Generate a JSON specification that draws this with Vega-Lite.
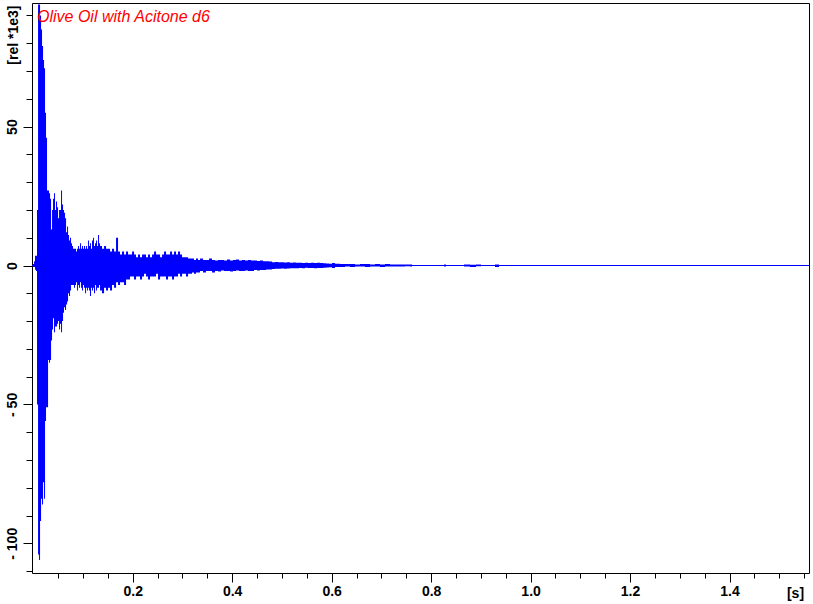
{
  "$schema": "https://vega.github.io/schema/vega-lite/v6.json",
  "width": 777,
  "height": 570,
  "autosize": {"type": "none"},
  "padding": {"left": 32, "top": 3, "right": 4, "bottom": 31},
  "background": "white",
  "config": {
    "view": {"stroke": "black", "strokeWidth": 1},
    "axis": {
      "domain": false,
      "grid": false,
      "labelOverlap": false,
      "tickColor": "black",
      "tickWidth": 1,
      "labelFont": "Liberation Sans",
      "labelFontSize": 14,
      "labelFontWeight": "bold",
      "labelColor": "black",
      "titleFont": "Liberation Sans",
      "titleFontSize": 14,
      "titleFontWeight": "bold",
      "titleColor": "black"
    }
  },
  "title": {
    "text": "Olive Oil with Acitone d6",
    "anchor": "start",
    "frame": "group",
    "offset": -20.5,
    "dx": 5,
    "dy": 14.5,
    "baseline": "alphabetic",
    "font": "Liberation Sans",
    "fontSize": 16,
    "fontStyle": "italic",
    "fontWeight": "normal",
    "color": "red"
  },
  "layer": [
    {
      "data": {"values": [
        {"t": -0.0004, "hi": 0.5, "lo": -0.5},
        {"t": 0.0016, "hi": 1.5, "lo": -0.5},
        {"t": 0.0036, "hi": 3.5, "lo": -1.5},
        {"t": 0.0056, "hi": 3.5, "lo": -2},
        {"t": 0.0076, "hi": 20, "lo": -50},
        {"t": 0.0097, "hi": 94, "lo": -104},
        {"t": 0.0117, "hi": 94, "lo": -106},
        {"t": 0.0137, "hi": 90, "lo": -92},
        {"t": 0.0157, "hi": 85, "lo": -84},
        {"t": 0.0177, "hi": 79, "lo": -86},
        {"t": 0.0197, "hi": 74, "lo": -78},
        {"t": 0.0217, "hi": 71, "lo": -84},
        {"t": 0.0237, "hi": 55, "lo": -56},
        {"t": 0.0257, "hi": 46, "lo": -51},
        {"t": 0.0277, "hi": 27, "lo": -51},
        {"t": 0.0298, "hi": 27, "lo": -34},
        {"t": 0.0318, "hi": 26, "lo": -35},
        {"t": 0.0338, "hi": 24, "lo": -34},
        {"t": 0.0358, "hi": 13, "lo": -27},
        {"t": 0.0378, "hi": 20, "lo": -23},
        {"t": 0.0398, "hi": 24, "lo": -19},
        {"t": 0.0418, "hi": 26, "lo": -24},
        {"t": 0.0438, "hi": 20, "lo": -22},
        {"t": 0.0458, "hi": 23, "lo": -22},
        {"t": 0.0479, "hi": 21, "lo": -21},
        {"t": 0.0499, "hi": 17, "lo": -20},
        {"t": 0.0519, "hi": 20, "lo": -23},
        {"t": 0.0539, "hi": 20, "lo": -21},
        {"t": 0.0559, "hi": 27, "lo": -24},
        {"t": 0.0579, "hi": 22, "lo": -20},
        {"t": 0.0599, "hi": 20, "lo": -17},
        {"t": 0.0619, "hi": 19, "lo": -15},
        {"t": 0.0639, "hi": 17, "lo": -16},
        {"t": 0.0660, "hi": 12, "lo": -14},
        {"t": 0.0680, "hi": 14, "lo": -13},
        {"t": 0.0700, "hi": 11, "lo": -10},
        {"t": 0.0720, "hi": 9, "lo": -11},
        {"t": 0.0740, "hi": 10, "lo": -9},
        {"t": 0.0760, "hi": 8, "lo": -7},
        {"t": 0.0780, "hi": 7, "lo": -7},
        {"t": 0.0800, "hi": 6, "lo": -7},
        {"t": 0.0820, "hi": 6, "lo": -8},
        {"t": 0.0840, "hi": 6, "lo": -7},
        {"t": 0.0861, "hi": 5, "lo": -6},
        {"t": 0.0881, "hi": 6, "lo": -9},
        {"t": 0.0901, "hi": 7, "lo": -7},
        {"t": 0.0921, "hi": 6, "lo": -8},
        {"t": 0.0941, "hi": 8, "lo": -6},
        {"t": 0.0961, "hi": 6, "lo": -8},
        {"t": 0.0981, "hi": 7, "lo": -9},
        {"t": 0.1001, "hi": 6, "lo": -7},
        {"t": 0.1021, "hi": 7, "lo": -8},
        {"t": 0.1042, "hi": 6, "lo": -10},
        {"t": 0.1062, "hi": 7, "lo": -8},
        {"t": 0.1082, "hi": 6, "lo": -9},
        {"t": 0.1102, "hi": 9, "lo": -8},
        {"t": 0.1122, "hi": 7, "lo": -9},
        {"t": 0.1142, "hi": 8, "lo": -11},
        {"t": 0.1162, "hi": 6, "lo": -8},
        {"t": 0.1182, "hi": 9, "lo": -9},
        {"t": 0.1202, "hi": 10, "lo": -8},
        {"t": 0.1222, "hi": 7, "lo": -10},
        {"t": 0.1243, "hi": 8, "lo": -7},
        {"t": 0.1263, "hi": 9, "lo": -9},
        {"t": 0.1283, "hi": 7, "lo": -8},
        {"t": 0.1303, "hi": 11, "lo": -8},
        {"t": 0.1323, "hi": 8, "lo": -7},
        {"t": 0.1343, "hi": 7, "lo": -9},
        {"t": 0.1383, "hi": 6, "lo": -10},
        {"t": 0.1424, "hi": 7, "lo": -8},
        {"t": 0.1464, "hi": 6, "lo": -9},
        {"t": 0.1504, "hi": 6, "lo": -8},
        {"t": 0.1544, "hi": 5, "lo": -9},
        {"t": 0.1584, "hi": 6, "lo": -7},
        {"t": 0.1625, "hi": 5, "lo": -8},
        {"t": 0.1665, "hi": 10, "lo": -6},
        {"t": 0.1705, "hi": 5, "lo": -7},
        {"t": 0.1745, "hi": 4, "lo": -6},
        {"t": 0.1785, "hi": 5, "lo": -6},
        {"t": 0.1826, "hi": 4, "lo": -7},
        {"t": 0.1866, "hi": 5, "lo": -5},
        {"t": 0.1906, "hi": 4, "lo": -5},
        {"t": 0.1946, "hi": 4, "lo": -4},
        {"t": 0.1987, "hi": 5, "lo": -4},
        {"t": 0.2027, "hi": 4, "lo": -5},
        {"t": 0.2067, "hi": 3, "lo": -4},
        {"t": 0.2107, "hi": 4, "lo": -4},
        {"t": 0.2147, "hi": 3, "lo": -5},
        {"t": 0.2188, "hi": 4, "lo": -4},
        {"t": 0.2228, "hi": 4, "lo": -3},
        {"t": 0.2268, "hi": 3, "lo": -4},
        {"t": 0.2308, "hi": 4, "lo": -5},
        {"t": 0.2348, "hi": 3, "lo": -4},
        {"t": 0.2389, "hi": 4, "lo": -4},
        {"t": 0.2429, "hi": 5, "lo": -4},
        {"t": 0.2469, "hi": 4, "lo": -3},
        {"t": 0.2509, "hi": 4, "lo": -5},
        {"t": 0.2550, "hi": 3, "lo": -4},
        {"t": 0.2590, "hi": 4, "lo": -4},
        {"t": 0.2630, "hi": 5, "lo": -4},
        {"t": 0.2670, "hi": 4, "lo": -5},
        {"t": 0.2710, "hi": 4, "lo": -4},
        {"t": 0.2751, "hi": 5, "lo": -4},
        {"t": 0.2791, "hi": 4, "lo": -5},
        {"t": 0.2831, "hi": 5, "lo": -4},
        {"t": 0.2871, "hi": 4, "lo": -4},
        {"t": 0.2911, "hi": 5, "lo": -3},
        {"t": 0.2952, "hi": 4, "lo": -4},
        {"t": 0.2992, "hi": 3, "lo": -3},
        {"t": 0.3032, "hi": 3, "lo": -3},
        {"t": 0.3072, "hi": 3, "lo": -4},
        {"t": 0.3113, "hi": 2.5, "lo": -3},
        {"t": 0.3153, "hi": 2.5, "lo": -3},
        {"t": 0.3193, "hi": 2.5, "lo": -2.5},
        {"t": 0.3233, "hi": 2, "lo": -3},
        {"t": 0.3273, "hi": 2.5, "lo": -2.5},
        {"t": 0.3314, "hi": 2, "lo": -2.5},
        {"t": 0.3354, "hi": 2.5, "lo": -2},
        {"t": 0.3414, "hi": 2, "lo": -2.5},
        {"t": 0.3474, "hi": 2, "lo": -2},
        {"t": 0.3535, "hi": 2.5, "lo": -2},
        {"t": 0.3595, "hi": 2, "lo": -2.5},
        {"t": 0.3655, "hi": 1.8, "lo": -2},
        {"t": 0.3716, "hi": 2, "lo": -2.2},
        {"t": 0.3776, "hi": 2, "lo": -1.8},
        {"t": 0.3836, "hi": 1.8, "lo": -2},
        {"t": 0.3897, "hi": 2.2, "lo": -2},
        {"t": 0.3957, "hi": 1.8, "lo": -2.2},
        {"t": 0.4017, "hi": 2, "lo": -2},
        {"t": 0.4078, "hi": 2.2, "lo": -1.8},
        {"t": 0.4138, "hi": 1.8, "lo": -2},
        {"t": 0.4198, "hi": 2, "lo": -2},
        {"t": 0.4259, "hi": 1.8, "lo": -1.8},
        {"t": 0.4319, "hi": 2, "lo": -2},
        {"t": 0.4379, "hi": 1.8, "lo": -2},
        {"t": 0.4440, "hi": 1.8, "lo": -1.6},
        {"t": 0.4500, "hi": 1.6, "lo": -1.8},
        {"t": 0.4560, "hi": 1.8, "lo": -1.6},
        {"t": 0.4621, "hi": 1.5, "lo": -1.6},
        {"t": 0.4681, "hi": 1.5, "lo": -1.4},
        {"t": 0.4741, "hi": 1.4, "lo": -1.4},
        {"t": 0.4802, "hi": 1.2, "lo": -1.3},
        {"t": 0.4862, "hi": 1.3, "lo": -1.2},
        {"t": 0.4922, "hi": 1.2, "lo": -1.2},
        {"t": 0.4983, "hi": 1.2, "lo": -1.1},
        {"t": 0.5043, "hi": 1.1, "lo": -1.2},
        {"t": 0.5103, "hi": 1.2, "lo": -1.1},
        {"t": 0.5163, "hi": 1.0, "lo": -1.0},
        {"t": 0.5224, "hi": 1.1, "lo": -1.0},
        {"t": 0.5284, "hi": 1.0, "lo": -1.0},
        {"t": 0.5344, "hi": 1.0, "lo": -0.9},
        {"t": 0.5405, "hi": 0.9, "lo": -1.0},
        {"t": 0.5465, "hi": 1.0, "lo": -0.8},
        {"t": 0.5525, "hi": 0.9, "lo": -0.9},
        {"t": 0.5586, "hi": 1.0, "lo": -0.9},
        {"t": 0.5646, "hi": 0.9, "lo": -1.0},
        {"t": 0.5706, "hi": 1.0, "lo": -0.9},
        {"t": 0.5767, "hi": 0.9, "lo": -0.9},
        {"t": 0.5827, "hi": 0.8, "lo": -0.8},
        {"t": 0.5887, "hi": 0.7, "lo": -0.7},
        {"t": 0.5948, "hi": 0.6, "lo": -0.6},
        {"t": 0.6008, "hi": 0.9, "lo": -0.9},
        {"t": 0.6068, "hi": 0.6, "lo": -0.5},
        {"t": 0.6169, "hi": 0.5, "lo": -0.5},
        {"t": 0.6269, "hi": 0.5, "lo": -0.4},
        {"t": 0.6370, "hi": 0.5, "lo": -0.5},
        {"t": 0.6470, "hi": 0.4, "lo": -0.4},
        {"t": 0.6571, "hi": 0.5, "lo": -0.4},
        {"t": 0.6671, "hi": 0.5, "lo": -0.5},
        {"t": 0.6772, "hi": 0.4, "lo": -0.4},
        {"t": 0.6873, "hi": 0.5, "lo": -0.4},
        {"t": 0.6973, "hi": 0.4, "lo": -0.5},
        {"t": 0.7074, "hi": 0.5, "lo": -0.4},
        {"t": 0.7174, "hi": 0.4, "lo": -0.4},
        {"t": 0.7275, "hi": 0.4, "lo": -0.4},
        {"t": 0.7375, "hi": 0.4, "lo": -0.4},
        {"t": 0.7476, "hi": 0.4, "lo": -0.3},
        {"t": 0.7576, "hi": 0.4, "lo": -0.4},
        {"t": 0.7617, "hi": 0, "lo": 0},
        {"t": 0.8260, "hi": 0.4, "lo": -0.4},
        {"t": 0.8300, "hi": 0, "lo": 0},
        {"t": 0.8662, "hi": 0.4, "lo": -0.4},
        {"t": 0.8783, "hi": 0.3, "lo": -0.5},
        {"t": 0.8903, "hi": 0.4, "lo": -0.3},
        {"t": 0.9004, "hi": 0, "lo": 0},
        {"t": 0.9285, "hi": 0.4, "lo": -0.5},
        {"t": 0.9366, "hi": 0, "lo": 0}
      ]},
      "mark": {"type": "area", "interpolate": "step-after", "color": "blue", "clip": true},
      "encoding": {
        "x": {
          "field": "t",
          "type": "quantitative",
          "scale": {"domain": [-0.0025, 1.5598], "nice": false, "zero": false},
          "axis": {
            "orient": "bottom",
            "values": [0.05, 0.1, 0.15, 0.2, 0.25, 0.3, 0.35, 0.4, 0.45, 0.5, 0.55, 0.6, 0.65, 0.7, 0.75, 0.8, 0.85, 0.9, 0.95, 1.0, 1.05, 1.1, 1.15, 1.2, 1.25, 1.3, 1.35, 1.4, 1.45, 1.5, 1.55],
            "labelExpr": "abs(datum.value*5-round(datum.value*5))<0.001 ? format(datum.value,'.1f') : ''",
            "tickSize": {"condition": {"test": "abs(datum.value*5-round(datum.value*5))<0.001", "value": 9}, "value": 5},
            "labelPadding": 13,
            "labelBaseline": "alphabetic",
            "labelAlign": "center",
            "labelOverlap": false,
            "title": "[s]",
            "titleX": 763,
            "titleY": 24,
            "titleAlign": "center",
            "titleBaseline": "alphabetic"
          }
        },
        "y": {
          "field": "hi",
          "type": "quantitative",
          "scale": {"domain": [-110.7, 94.5], "nice": false, "zero": false},
          "axis": {
            "values": [-110, -100, -90, -80, -70, -60, -50, -40, -30, -20, -10, 0, 10, 20, 30, 40, 50, 60, 70, 80, 90],
            "labelExpr": "datum.value == 50 ? '50' : datum.value == 0 ? '0' : datum.value == -50 ? '- 50' : datum.value == -100 ? '- 100' : ''",
            "tickSize": {"condition": {"test": "datum.value == 50 || datum.value == 0 || datum.value == -50 || datum.value == -100", "value": 9}, "value": 6},
            "labelAngle": -90,
            "labelAlign": "center",
            "labelBaseline": "alphabetic",
            "labelPadding": 7,
            "labelOverlap": false,
            "title": "[rel *1e3]",
            "titleAngle": -90,
            "titleAlign": "right",
            "titleBaseline": "alphabetic",
            "titleX": -15,
            "titleY": 2
          }
        },
        "y2": {"field": "lo"}
      }
    },
    {
      "data": {"values": [{"hi": 0}]},
      "mark": {"type": "rule", "color": "blue", "strokeWidth": 1},
      "encoding": {
        "y": {
          "field": "hi",
          "type": "quantitative",
          "scale": {"domain": [-110.7, 94.5], "nice": false, "zero": false},
          "axis": {
            "values": [-110, -100, -90, -80, -70, -60, -50, -40, -30, -20, -10, 0, 10, 20, 30, 40, 50, 60, 70, 80, 90],
            "labelExpr": "datum.value == 50 ? '50' : datum.value == 0 ? '0' : datum.value == -50 ? '- 50' : datum.value == -100 ? '- 100' : ''",
            "tickSize": {"condition": {"test": "datum.value == 50 || datum.value == 0 || datum.value == -50 || datum.value == -100", "value": 9}, "value": 6},
            "labelAngle": -90,
            "labelAlign": "center",
            "labelBaseline": "alphabetic",
            "labelPadding": 7,
            "labelOverlap": false,
            "title": "[rel *1e3]",
            "titleAngle": -90,
            "titleAlign": "right",
            "titleBaseline": "alphabetic",
            "titleX": -15,
            "titleY": 2
          }
        }
      }
    }
  ]
}
